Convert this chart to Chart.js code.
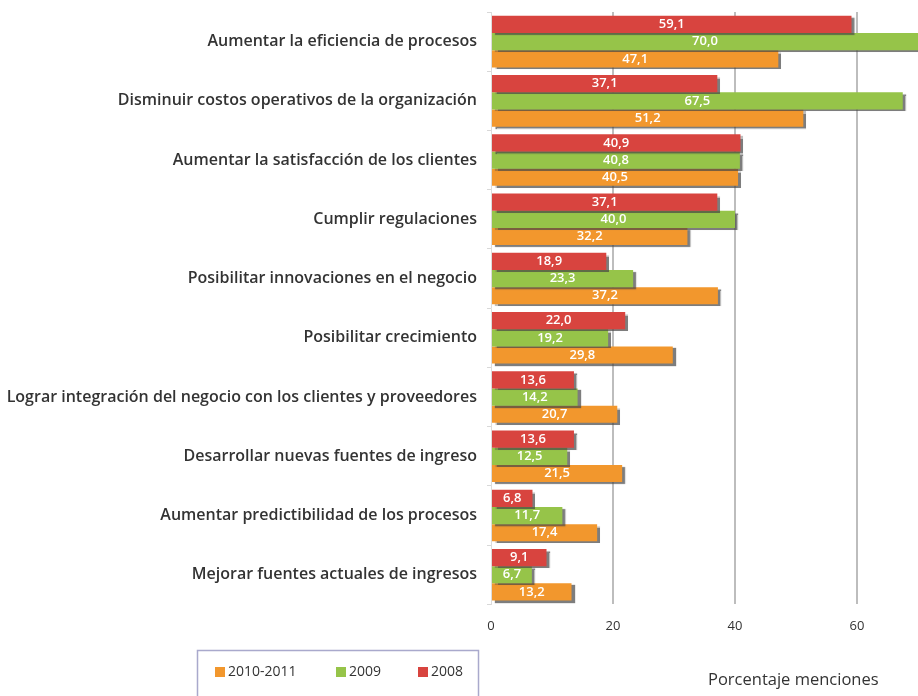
<!DOCTYPE html>
<html>
<head>
<meta charset="utf-8">
<script src="https://cdn.jsdelivr.net/npm/chart.js@4"></script>
<style>
  html, body { margin: 0; padding: 0; background: #fff; }
  #wrap { width: 918px; height: 696px; position: relative; }
</style>
</head>
<body>
<div id="wrap"><canvas id="motivosChart"></canvas></div>
<script>
const categories = [
  'Aumentar la eficiencia de procesos',
  'Disminuir costos operativos de la organización',
  'Aumentar la satisfacción de los clientes',
  'Cumplir regulaciones',
  'Posibilitar innovaciones en el negocio',
  'Posibilitar crecimiento',
  'Lograr integración del negocio con los clientes y proveedores',
  'Desarrollar nuevas fuentes de ingreso',
  'Aumentar predictibilidad de los procesos',
  'Mejorar fuentes actuales de ingresos'
];
const values2008 = [59.1, 37.1, 40.9, 37.1, 18.9, 22.0, 13.6, 13.6, 6.8, 9.1];
const values2009 = [70.0, 67.5, 40.8, 40.0, 23.3, 19.2, 14.2, 12.5, 11.7, 6.7];
const values2010 = [47.1, 51.2, 40.5, 32.2, 37.2, 29.8, 20.7, 21.5, 17.4, 13.2];
const xTicks = [0, 20, 40, 60];

const fontFamily = '"Open Sans", "Noto Sans", sans-serif';

// sombra de las barras
const barShadow = {
  id: 'barShadow',
  beforeDatasetsDraw(chart) {
    const ctx = chart.ctx;
    ctx.save();
    ctx.shadowColor = 'rgba(70,70,70,0.7)';
    ctx.shadowOffsetX = 3;
    ctx.shadowOffsetY = 2;
    ctx.shadowBlur = 1;
  },
  afterDatasetsDraw(chart) {
    chart.ctx.restore();
  }
};

// etiquetas con coma decimal dentro de la barra
const barLabels = {
  id: 'barLabels',
  afterDraw(chart) {
    const ctx = chart.ctx;
    ctx.save();
    ctx.font = '600 13px ' + fontFamily;
    ctx.fillStyle = '#fff';
    ctx.textAlign = 'center';
    ctx.textBaseline = 'middle';
    chart.data.datasets.forEach((ds, i) => {
      chart.getDatasetMeta(i).data.forEach((bar, j) => {
        const x = (bar.x + bar.base) / 2;
        ctx.fillText(ds.data[j].toFixed(1).replace('.', ','), x, bar.y);
      });
    });
    ctx.restore();
  }
};

// leyenda en recuadro + titulo del eje
const boxLegend = {
  id: 'boxLegend',
  afterDraw(chart) {
    const ctx = chart.ctx;
    ctx.save();
    ctx.strokeStyle = '#a9a9cc';
    ctx.lineWidth = 1.5;
    ctx.strokeRect(197.5, 650.5, 281, 60);
    const order = [2, 1, 0];
    const xs = [215, 336, 418];
    ctx.font = '14px ' + fontFamily;
    ctx.textBaseline = 'middle';
    order.forEach((di, k) => {
      const ds = chart.data.datasets[di];
      ctx.fillStyle = ds.backgroundColor;
      ctx.fillRect(xs[k], 667, 10, 10);
      ctx.fillStyle = '#333';
      ctx.fillText(ds.label, xs[k] + 13, 672.5);
    });
    ctx.font = '16.5px ' + fontFamily;
    ctx.fillStyle = '#333';
    ctx.fillText('Porcentaje menciones', 708, 680);
    ctx.restore();
  }
};

new Chart(document.getElementById('motivosChart'), {
  type: 'bar',
  data: {
    labels: categories,
    datasets: [
      { label: '2008', data: values2008, backgroundColor: '#d8443f' },
      { label: '2009', data: values2009, backgroundColor: '#96c449' },
      { label: '2010-2011', data: values2010, backgroundColor: '#f2972d' }
    ]
  },
  options: {
    indexAxis: 'y',
    responsive: true,
    maintainAspectRatio: false,
    animation: false,
    layout: { padding: { top: 12, right: 0, bottom: 48, left: 0 } },
    datasets: { bar: { categoryPercentage: 0.87, barPercentage: 1.0 } },
    plugins: {
      legend: { display: false },
      tooltip: { enabled: false }
    },
    scales: {
      x: {
        min: 0,
        max: 70,
        afterBuildTicks: scale => {
          scale.ticks = xTicks.map(v => ({ value: v }));
        },
        ticks: {
          color: '#333',
          padding: 14,
          font: { family: fontFamily, size: 13 }
        },
        grid: {
          color: ctx => ctx.tick && ctx.tick.value === 0 ? 'rgba(0,0,0,0)' : '#bdbdbd',
          lineWidth: 2,
          drawTicks: false
        },
        border: { display: false }
      },
      y: {
        afterFit: scale => {
          scale.width = 491;
          scale.paddingTop = 0;
          scale.paddingBottom = 0;
        },
        ticks: {
          color: '#333',
          padding: 10,
          font: { family: fontFamily, size: 16, weight: '600' }
        },
        grid: {
          offset: true,
          drawOnChartArea: false,
          tickLength: 4,
          color: '#d8d8d8'
        },
        border: { display: true, color: '#dcdcdc', width: 1 }
      }
    }
  },
  plugins: [barShadow, barLabels, boxLegend]
});
</script>
</body>
</html>
